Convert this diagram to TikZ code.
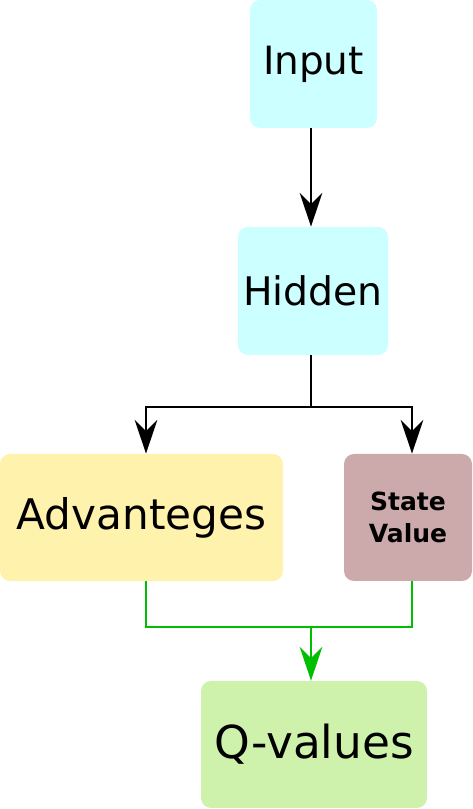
\documentclass[tikz,border=0pt]{standalone}
\usepackage{fontspec}
\setmainfont{DejaVu Sans}
\usetikzlibrary{arrows.meta}
\definecolor{inputcol}{RGB}{204,255,255}
\definecolor{advcol}{RGB}{255,242,172}
\definecolor{svcol}{RGB}{204,170,172}
\definecolor{qcol}{RGB}{206,242,172}
\definecolor{mergecol}{RGB}{0,190,0}
\begin{document}
\begin{tikzpicture}[
  box/.style={rounded corners=0.25cm,inner sep=0pt,align=center},
  arr/.style={line width=1.4pt,-{Stealth[length=24pt,width=16pt,inset=8pt]}},
  line/.style={line width=1.4pt}]

\useasboundingbox (0,0) rectangle (11.8,20.225);

%Network

\node[box,fill=inputcol,minimum width=3.175cm,minimum height=3.2cm,
  font=\fontsize{27.7}{33}\selectfont] (in) at (7.8375,18.625) {Input};
\node[box,fill=inputcol,minimum width=3.75cm,minimum height=3.2cm,
  font=\fontsize{28}{33}\selectfont] (hid) at (7.825,12.95) {Hidden};
\node[box,fill=advcol,minimum width=7.075cm,minimum height=3.175cm,
  font=\fontsize{30}{36}\selectfont] (adv) at (3.5375,7.2875) {Advanteges};
\node[box,fill=svcol,minimum width=3.2cm,minimum height=3.175cm,
  font=\bfseries\fontsize{17.8}{22.8}\selectfont] (sv) at (10.2,7.2875) {State\\Value};
\node[box,fill=qcol,minimum width=5.65cm,minimum height=3.175cm,
  font=\fontsize{32.3}{38}\selectfont] (q) at (7.85,1.6125) {Q-values};

\coordinate (split) at (7.775,10.05);
\coordinate (merge) at (7.775,4.55);
\coordinate (lft) at (3.65,0);
\coordinate (rgt) at (10.3,0);

\draw[arr] (in.south -| split) -- (hid.north -| split);
\draw[line] (hid.south -| split) -- (split);
\draw[arr] (split) -| (adv.north -| lft);
\draw[arr] (split) -| (sv.north -| rgt);

\draw[line,mergecol] (adv.south -| lft) |- (merge) -| (sv.south -| rgt);
\draw[arr,mergecol] (merge) -- (q.north -| merge);

\end{tikzpicture}
\end{document}
